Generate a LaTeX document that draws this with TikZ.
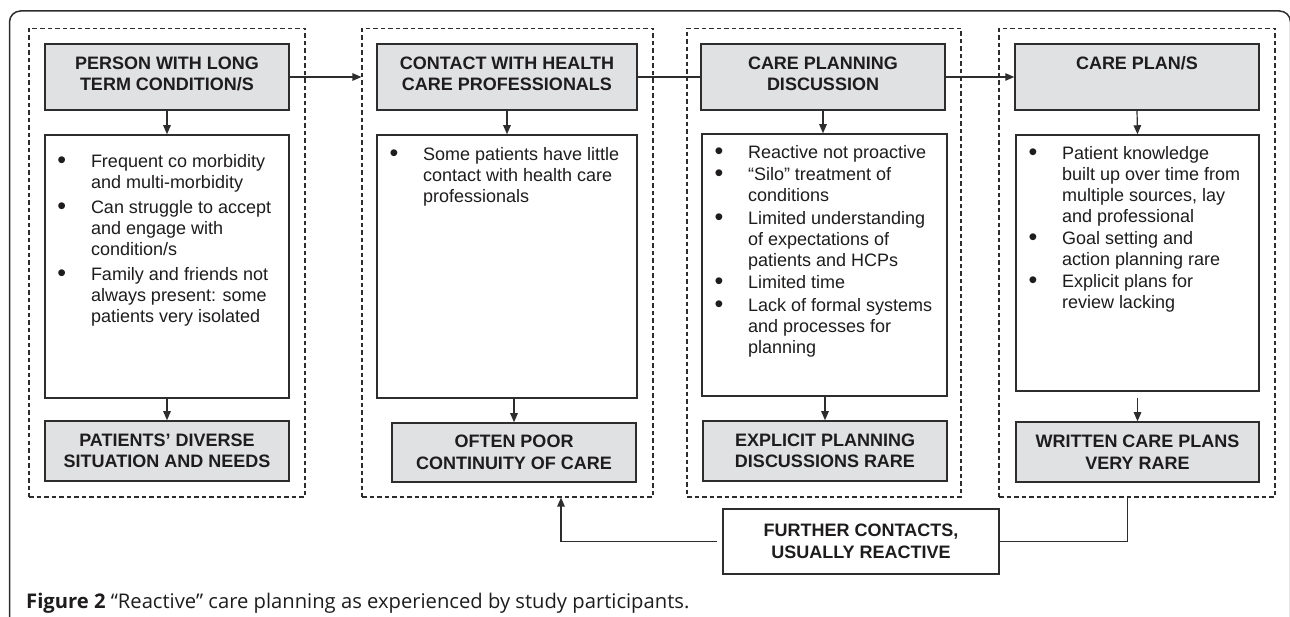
\documentclass[tikz,border=0pt]{standalone}
\usepackage{fontspec}
\setmainfont{Liberation Sans}
\newfontfamily\capfont{Open Sans}
\usetikzlibrary{arrows.meta}
\definecolor{boxgray}{RGB}{224,225,227}
\definecolor{ink}{RGB}{45,45,45}
\definecolor{txt}{RGB}{30,28,29}
\newcommand{\bitem}[1]{\par\hangindent=46pt\hangafter=1\noindent\makebox[46pt][l]{\hspace{12.5pt}\raisebox{-1.2pt}{\fontsize{25}{21}\selectfont•}}#1\par}
\newcommand{\wlist}[5]{\parbox[c][#1][t]{#2}{\vspace*{#3}\raggedright\fontsize{18}{21}\selectfont\setlength{\parskip}{#4}#5}}
\newcommand{\ttl}[2]{\parbox[c][66pt][t]{#1}{\vspace*{12.5pt}\centering #2}}
\tikzset{
  grp/.style={draw=ink, dash pattern=on 4.5pt off 3pt, line width=1.1pt, inner sep=0pt,
    minimum width=#1, minimum height=468.5pt},
  gbox/.style={draw=ink, fill=boxgray, line width=1.5pt, inner sep=0pt, text=txt,
    font=\fontsize{18}{21.5}\selectfont\bfseries},
  wbox/.style={draw=ink, fill=white, line width=1.5pt, inner sep=0pt, text=txt},
  conn/.style={draw=ink, line width=1.2pt},
  arr/.style={conn, -{Triangle[length=9pt,width=7.5pt]}}
}
\begin{document}
\begin{tikzpicture}[x=1pt,y=1pt]
\useasboundingbox (0,0) rectangle (1290,616);
% outer frame
\draw[draw=ink, line width=1.5pt, rounded corners=11pt] (9.5,-10) -- (9.5,605) -- (1290.5,605) -- (1290.5,-10);
% groups
\node[grp=276pt] (G1) at (167,353.25) {};
\node[grp=291pt] (G2) at (507.5,353.25) {};
\node[grp=274pt] (G3) at (824,353.25) {};
\node[grp=276pt] (G4) at (1137,353.25) {};
% top grey boxes
\node[gbox, minimum width=244pt, minimum height=66pt] (T1) at (167,539) {\ttl{244pt}{PERSON WITH LONG\\TERM CONDITION/S}};
\node[gbox, minimum width=260pt, minimum height=66pt] (T2) at (507,539) {\ttl{260pt}{CONTACT WITH HEALTH\\CARE PROFESSIONALS}};
\node[gbox, minimum width=244pt, minimum height=66pt] (T3) at (823,539) {\ttl{244pt}{CARE PLANNING\\DISCUSSION}};
\node[gbox, minimum width=244pt, minimum height=66pt] (T4) at (1137,539) {\ttl{244pt}{CARE PLAN/S}};
% white boxes
\node[wbox, minimum width=244pt, minimum height=263pt] (W1) at (167,349.5) {\wlist{263pt}{244pt}{15pt}{4pt}{%
\bitem{Frequent co morbidity\newline and multi-morbidity}%
\bitem{Can struggle to accept\newline and engage with\newline condition/s}%
\bitem{Family and friends not\newline always present: some\newline patients very isolated}}};
\node[wbox, minimum width=260pt, minimum height=263pt] (W2) at (507,349.5) {\wlist{263pt}{260pt}{10.5pt}{1.5pt}{%
\bitem{Some patients have little\newline contact with health care\newline professionals}}};
\node[wbox, minimum width=245pt, minimum height=262pt] (W3) at (824.5,351) {\wlist{262pt}{245pt}{9.5pt}{1.5pt}{%
\bitem{Reactive not proactive}%
\bitem{“Silo” treatment of\newline conditions}%
\bitem{Limited understanding\newline of expectations of\newline patients and HCPs}%
\bitem{Limited time}%
\bitem{Lack of formal systems\newline and processes for\newline planning}}};
\node[wbox, minimum width=243pt, minimum height=256pt] (W4) at (1137.5,353) {\wlist{256pt}{243pt}{10.5pt}{1pt}{%
\bitem{Patient knowledge\newline built up over time from\newline multiple sources, lay\newline and professional}%
\bitem{Goal setting and\newline action planning rare}%
\bitem{Explicit plans for\newline review lacking}}};
% bottom grey boxes
\node[gbox, minimum width=244pt, minimum height=60pt, align=center] (B1) at (167,165) {PATIENTS’ DIVERSE\\SITUATION AND NEEDS};
\node[gbox, minimum width=244pt, minimum height=59pt, align=center] (B2) at (514,163.5) {OFTEN POOR\\CONTINUITY OF CARE};
\node[gbox, minimum width=244pt, minimum height=60pt, align=center] (B3) at (825,165) {EXPLICIT PLANNING\\DISCUSSIONS RARE};
\node[gbox, minimum width=243pt, minimum height=60pt, align=center] (B4) at (1137.5,164) {WRITTEN CARE PLANS\\VERY RARE};
% further contacts
\node[wbox, minimum width=276pt, minimum height=65pt, align=center, font=\fontsize{18}{21.5}\selectfont\bfseries] (FC) at (861,74.5) {FURTHER CONTACTS,\\USUALLY REACTIVE};
% connectors
\draw[arr] (T1.east) -- (T1.east -| G2.west);
\draw[conn] (T2.east) -- (T3.west);
\draw[arr] (T3.east) -- (T4.west);
\draw[arr] (T1.south) -- (W1.north);
\draw[arr] (T2.south) -- (W2.north);
\draw[arr] (T3.south) -- (T3.south |- W3.north);
\draw[arr] (T4.south) -- (W4.north);
\draw[arr] (W1.south) -- (B1.north);
\draw[arr] (W2.south -| B2.north) -- (B2.north);
\draw[arr] (W3.south -| B3.north) -- (B3.north);
\draw[arr] ([yshift=-6pt]W4.south) -- (B4.north);
\path (G4.south) ++(-9.5,0) coordinate (c4);
\path (G2.south) ++(53.5,0) coordinate (c2);
\draw[conn] (c4) |- (FC.east);
\draw[arr] ([xshift=-5pt]FC.west) -| (c2);
% caption
\node[anchor=base west, inner sep=0pt, text=txt, font=\capfont\fontsize{20.2}{23}\selectfont] (cap) at (26,8) {\textbf{Figure 2} “Reactive” care planning as experienced by study participants.};
\end{tikzpicture}
\end{document}
